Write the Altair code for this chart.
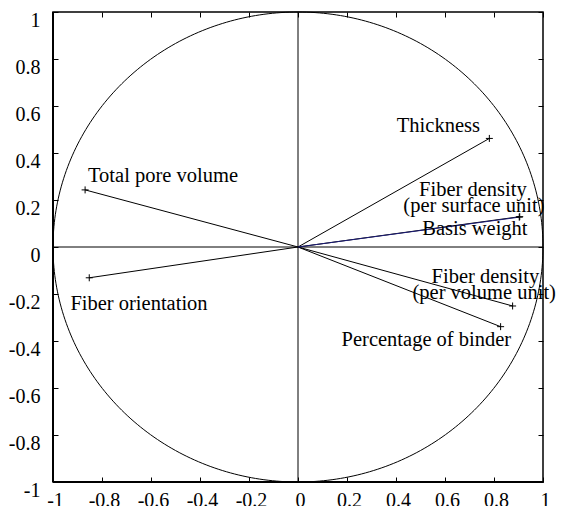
import altair as alt
import pandas as pd

# Variable loadings (end points of the vectors)
var_names = ["Thickness", "Fiber density (per surface unit)", "Basis weight",
             "Fiber density (per volume unit)", "Percentage of binder",
             "Total pore volume", "Fiber orientation"]
load_x = [0.781, 0.905, 0.903, 0.876, 0.827, -0.869, -0.852]
load_y = [0.462, 0.129, 0.127, -0.251, -0.339, 0.243, -0.131]
highlight = ["Basis weight"]

# Annotation texts and their anchor positions (data coordinates)
label_text = ["Thickness", "Fiber density", "(per surface unit)", "Basis weight",
              "Fiber density", "(per volume unit)", "Percentage of binder",
              "Total pore volume", "Fiber orientation"]
label_x = [0.573, 0.714, 0.718, 0.722, 0.765, 0.760, 0.524, -0.551, -0.649]
label_y = [0.490, 0.219, 0.151, 0.052, -0.153, -0.223, -0.421, 0.278, -0.270]

tick_values = [-1, -0.8, -0.6, -0.4, -0.2, 0, 0.2, 0.4, 0.6, 0.8, 1]

FONT = "Liberation Serif"

vec = pd.DataFrame({"name": var_names, "x": load_x, "y": load_y,
                    "x0": [0.0] * len(var_names), "y0": [0.0] * len(var_names)})
lab = pd.DataFrame({"text": label_text, "x": label_x, "y": label_y})
ref = pd.DataFrame({"x": [0, -1, -1, -1], "x2": [0, 1, -1, 1],
                    "y": [-1, 0, -1, -1], "y2": [1, 0, 1, -1],
                    "w": [1, 1, 2, 2]})

xs = alt.Scale(domain=[-1, 1], nice=False, zero=False)
ys = alt.Scale(domain=[-1, 1], nice=False, zero=False)

main_x_axis = alt.Axis(orient="bottom", values=tick_values, labelExpr="'' + datum.value",
                       offset=-5, tickSize=5, domain=False, grid=False, title=None,
                       labelFont=FONT, labelFontSize=20, labelColor="black",
                       labelPadding=8, labelOffset=2, tickColor="black",
                       labelFlush=False, labelOverlap=False)
main_y_axis = alt.Axis(orient="left", values=tick_values, labelExpr="'' + datum.value",
                       offset=-5, tickSize=5, domain=False, grid=False, title=None,
                       labelFont=FONT, labelFontSize=20, labelColor="black",
                       labelPadding=13, labelOffset=8, tickColor="black",
                       labelFlush=False, labelOverlap=False)
top_axis = alt.Axis(orient="top", values=tick_values, labels=False, offset=-5,
                    tickSize=5, domain=False, grid=False, title=None, tickColor="black")
right_axis = alt.Axis(orient="right", values=tick_values, labels=False, offset=-5,
                      tickSize=5, domain=False, grid=False, title=None, tickColor="black")

circle = alt.Chart(alt.sequence(0, 361, 1, as_="deg")).transform_calculate(
    cx="cos(datum.deg*PI/180)", cy="sin(datum.deg*PI/180)"
).mark_line(color="black", strokeWidth=1).encode(
    x=alt.X("cx:Q", scale=xs, axis=top_axis),
    y=alt.Y("cy:Q", scale=ys, axis=right_axis),
    order="deg:Q",
)

refs = alt.Chart(ref).mark_rule(color="black").encode(
    x=alt.X("x:Q", scale=xs, axis=None), x2="x2:Q",
    y=alt.Y("y:Q", scale=ys, axis=None), y2="y2:Q",
    strokeWidth=alt.StrokeWidth("w:Q", scale=None),
)

vectors = alt.Chart(vec).transform_filter(
    ~alt.FieldOneOfPredicate(field="name", oneOf=highlight)
).mark_rule(color="black", strokeWidth=1).encode(
    x=alt.X("x0:Q", scale=xs, axis=main_x_axis), x2="x:Q",
    y=alt.Y("y0:Q", scale=ys, axis=main_y_axis), y2="y:Q",
)

vectors_hl = alt.Chart(vec).transform_filter(
    alt.FieldOneOfPredicate(field="name", oneOf=highlight)
).mark_rule(color="#1c1c78", strokeWidth=1).encode(
    x=alt.X("x0:Q", scale=xs, axis=None), x2="x:Q",
    y=alt.Y("y0:Q", scale=ys, axis=None), y2="y:Q",
)

crosses = alt.Chart(vec).mark_point(
    shape="M-1,0L1,0M0,-1L0,1", size=49, filled=False, color="black",
    strokeWidth=1, opacity=1
).encode(
    x=alt.X("x:Q", scale=xs, axis=None),
    y=alt.Y("y:Q", scale=ys, axis=None),
)

texts = alt.Chart(lab).mark_text(
    font=FONT, fontSize=20.5, color="black", align="center", baseline="alphabetic"
).encode(
    x=alt.X("x:Q", scale=xs, axis=None),
    y=alt.Y("y:Q", scale=ys, axis=None),
    text="text:N",
)

chart = alt.layer(circle, refs, vectors, vectors_hl, crosses, texts).resolve_axis(
    x="independent", y="independent"
).properties(
    width=490, height=470,
    autosize=alt.AutoSizeParams(type="none"),
    padding={"left": 45, "top": 4, "right": 14, "bottom": 24},
    background="white",
).configure_view(stroke="black", strokeWidth=1.5)

chart.save("out.html", embed_options={"renderer": "svg", "actions": False})
